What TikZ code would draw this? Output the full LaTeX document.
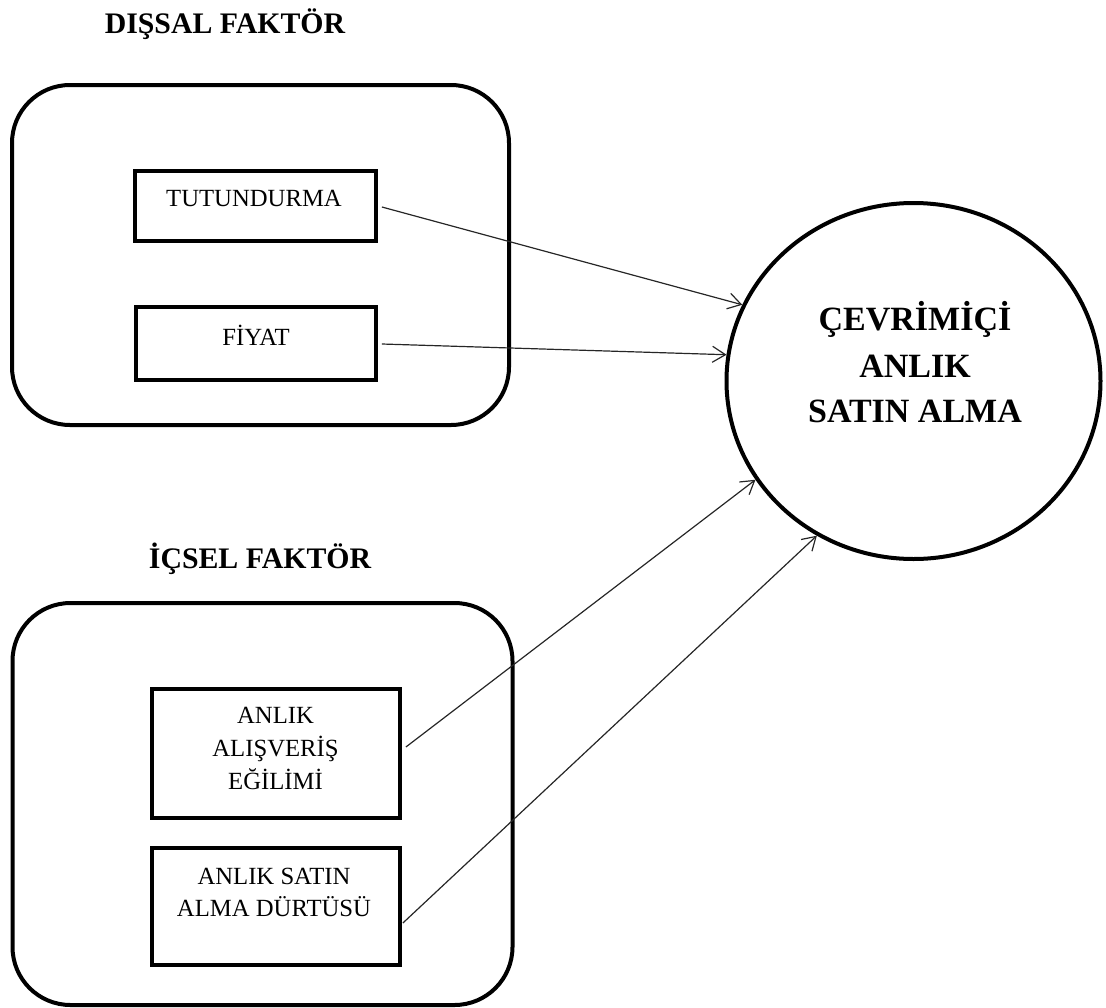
\documentclass[tikz,border=0pt]{standalone}
\usepackage{fontspec}
\setmainfont{Liberation Serif}
\usetikzlibrary{arrows.meta,shapes.geometric}

\begin{document}
\begin{tikzpicture}[x=1pt,y=1pt,
  group/.style={draw, line width=4pt, rounded corners=58pt, inner sep=0pt},
  factor/.style={draw, line width=3.8pt, inner sep=0pt},
  outcome/.style={draw, ellipse, line width=4pt, inner sep=0pt},
  heading/.style={anchor=base, inner sep=0pt, font=\fontsize{29.8}{35}\selectfont\bfseries},
  boxtext/.style={anchor=base, inner sep=0pt, font=\fontsize{24.7}{33}\selectfont},
  outtext/.style={anchor=base, inner sep=0pt, font=\fontsize{34}{46}\selectfont\bfseries},
  conn/.style={line width=1.2pt, draw=black!85, -{Straight Barb[length=13pt,width=16pt]}}]

\useasboundingbox (0,0) rectangle (1106,-1007);

% group headings
\node[heading] (exthead) at (225,-33) {DIŞSAL FAKTÖR};
\node[heading] (inthead) at (260,-568) {İÇSEL FAKTÖR};

% rounded group frames
\node[group, minimum width=497pt, minimum height=340pt] (extgroup) at (260.5,-255) {};
\node[group, minimum width=500pt, minimum height=402pt] (intgroup) at (262.5,-804) {};

% factor boxes
\node[factor, minimum width=241pt, minimum height=70pt] (tut) at (255.5,-206) {};
\node[factor, minimum width=240pt, minimum height=73pt] (fiy) at (256,-343.5) {};
\node[factor, minimum width=248pt, minimum height=129pt] (egi) at (276,-753.5) {};
\node[factor, minimum width=248pt, minimum height=117pt] (dur) at (276,-906.5) {};

% factor labels
\node[boxtext] (tuttxt) at (254,-206) {TUTUNDURMA};
\node[boxtext] (fiytxt) at (256,-345) {FİYAT};
\node[boxtext] (egitxta) at (275.5,-723) {ANLIK};
\node[boxtext] (egitxtb) at (275.5,-756) {ALIŞVERİŞ};
\node[boxtext] (egitxtc) at (275.5,-789) {EĞİLİMİ};
\node[boxtext] (durtxta) at (274,-884) {ANLIK SATIN};
\node[boxtext] (durtxtb) at (274,-916) {ALMA DÜRTÜSÜ};

% outcome
\node[outcome, minimum width=374pt, minimum height=356pt] (target) at (913.5,-381) {};
\node[outtext] (tgta) at (915,-330) {ÇEVRİMİÇİ};
\node[outtext] (tgtb) at (915,-377) {ANLIK};
\node[outtext] (tgtc) at (915,-422) {SATIN ALMA};

% connectors
\draw[conn] ([xshift=4pt,yshift=-1pt]tut.east) -- (target.156.3);
\draw[conn] ([xshift=4pt,yshift=-0.5pt]fiy.east) -- (target.172.6);
\draw[conn] ([xshift=4pt,yshift=6.5pt]egi.east) -- (target.212.3);
\draw[conn] ([xshift=1pt,yshift=-16.5pt]dur.east) -- (target.238.9);
\end{tikzpicture}
\end{document}
